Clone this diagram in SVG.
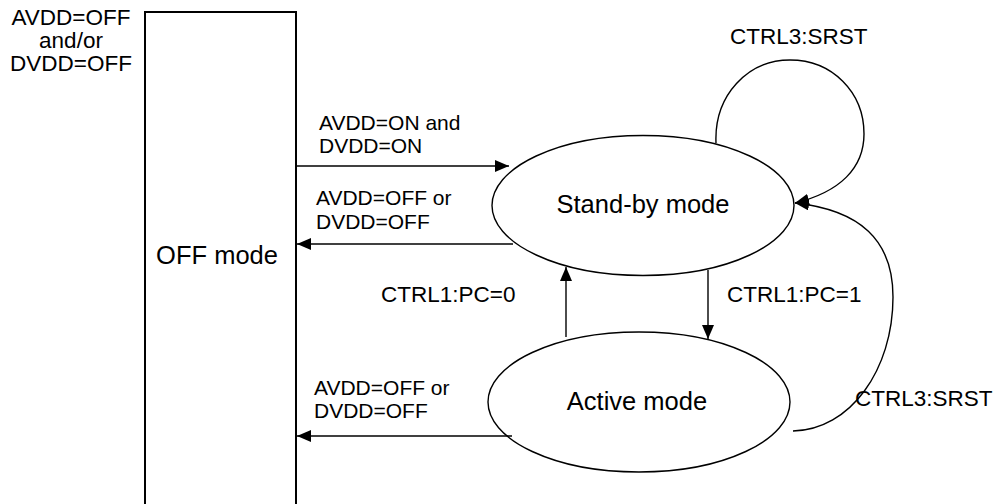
<svg xmlns="http://www.w3.org/2000/svg" width="1001" height="504" viewBox="0 0 1001 504">
<style>
text{font-family:"Liberation Sans",Arial,sans-serif;fill:#000}
.lbl{font-size:21px}
.ctl{font-size:22.5px}
.big{font-size:22.5px}
.node{font-size:25.5px}
.ln{fill:none;stroke:#000;stroke-width:1.4}
</style>
<defs>
<marker id="ah" markerWidth="14" markerHeight="12" refX="14" refY="6" orient="auto" markerUnits="userSpaceOnUse">
<path d="M0,0 L14,6 L0,12 Z" fill="#000"/>
</marker>
</defs>
<rect width="1001" height="504" fill="#fff"/>
<g id="off">
<rect x="145" y="12" width="151" height="500" fill="none" stroke="#000" stroke-width="2"/>
<text class="node" x="217" y="264" text-anchor="middle">OFF mode</text>
<text class="big" x="71" y="25" text-anchor="middle">AVDD=OFF</text>
<text class="big" x="71" y="48" text-anchor="middle">and/or</text>
<text class="big" x="71" y="71" text-anchor="middle">DVDD=OFF</text>
</g>
<g id="standby">
<ellipse cx="643" cy="205.5" rx="151" ry="70" fill="none" stroke="#000" stroke-width="1.4"/>
<text class="node" x="643" y="213" text-anchor="middle">Stand-by mode</text>
</g>
<g id="active">
<ellipse cx="639" cy="402" rx="151" ry="70" fill="none" stroke="#000" stroke-width="1.4"/>
<text class="node" x="637" y="410" text-anchor="middle">Active mode</text>
</g>
<g id="connectors">
<line class="ln" x1="296" y1="166" x2="509" y2="166" marker-end="url(#ah)"/>
<line class="ln" x1="513" y1="244" x2="297" y2="244" marker-end="url(#ah)"/>
<line class="ln" x1="512" y1="436" x2="297" y2="436" marker-end="url(#ah)"/>
<line class="ln" x1="566" y1="337" x2="566" y2="267" marker-end="url(#ah)"/>
<line class="ln" x1="708" y1="270" x2="708" y2="339" marker-end="url(#ah)"/>
<path class="ln" d="M716,143 C714,95 748,60 790,60 C832,60 864,92 864,134 C864,168 840,192 795,203" marker-end="url(#ah)"/>
<path class="ln" d="M793,431 C850,430 893,370 893,297 C893,240 860,210 795,203" marker-end="url(#ah)"/>
<text class="lbl" x="319" y="130">AVDD=ON and</text>
<text class="lbl" x="319" y="153">DVDD=ON</text>
<text class="lbl" x="316" y="205">AVDD=OFF or</text>
<text class="lbl" x="316" y="229">DVDD=OFF</text>
<text class="lbl" x="314" y="395">AVDD=OFF or</text>
<text class="lbl" x="314" y="418">DVDD=OFF</text>
<text class="ctl" x="381" y="302">CTRL1:PC=0</text>
<text class="ctl" x="727" y="302">CTRL1:PC=1</text>
<text class="ctl" x="730" y="44">CTRL3:SRST</text>
<text class="ctl" x="855" y="406">CTRL3:SRST</text>
</g>
</svg>
